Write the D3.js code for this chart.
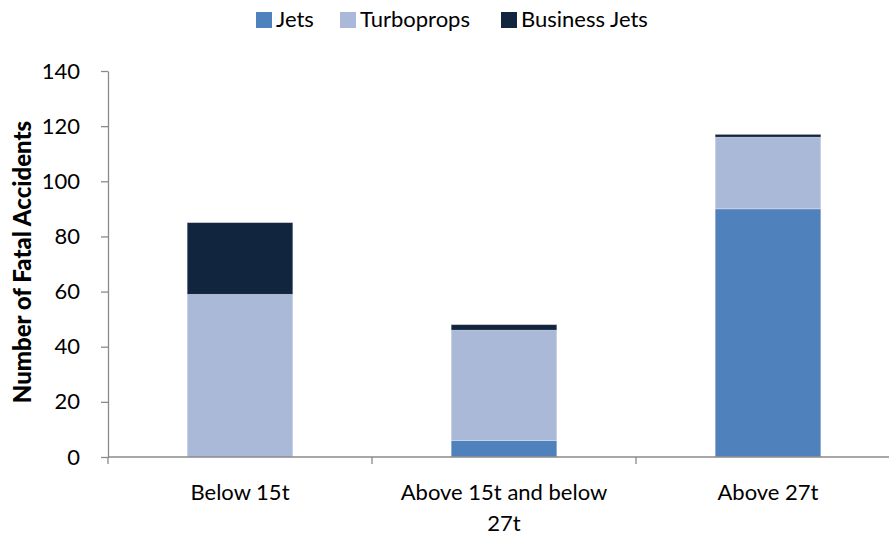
<!DOCTYPE html>
<html>
<head>
<meta charset="utf-8">
<script src="https://cdn.jsdelivr.net/npm/d3@7"></script>
<style>
  body { margin: 0; background: #fff; }
  text { font-family: Lato, "Open Sans", sans-serif; fill: #000; }
</style>
</head>
<body>
<svg id="chart" width="889" height="535"></svg>
<script>
// data
const categories = ["Below 15t", "Above 15t and below 27t", "Above 27t"];
const seriesNames = ["Jets", "Turboprops", "Business Jets"];
const jets = [0, 6, 90];
const turboprops = [59, 40, 26];
const businessJets = [26, 2, 1];
const yTicks = [0, 20, 40, 60, 80, 100, 120, 140];
const colors = ["#4F81BD", "#AAB9D7", "#11253F"];

const svg = d3.select("#chart");
const margin = {left: 108, top: 71, bottom: 457, right: 900};

const rows = categories.map((c, i) => ({
  cat: c, "Jets": jets[i], "Turboprops": turboprops[i], "Business Jets": businessJets[i]
}));
const stacked = d3.stack().keys(seriesNames)(rows);

const x = d3.scaleBand()
  .domain(categories)
  .range([margin.left, margin.right])
  .paddingInner(0.6)
  .paddingOuter(0.3);

const y = d3.scaleLinear()
  .domain([0, 140])
  .range([margin.bottom, margin.top]);

// bars
svg.append("g")
  .selectAll("g")
  .data(stacked)
  .enter()
  .append("g")
  .attr("fill", (d, i) => colors[i])
  .selectAll("rect")
  .data(d => d)
  .enter()
  .append("rect")
  .attr("x", d => x(d.data.cat))
  .attr("width", x.bandwidth())
  .attr("y", d => y(d[1]))
  .attr("height", d => y(d[0]) - y(d[1]))
  .attr("stroke", "#fff")
  .attr("stroke-opacity", 0.35)
  .attr("stroke-width", 0.8);

// y axis
const yAxis = svg.append("g")
  .attr("transform", `translate(${margin.left},0)`)
  .call(d3.axisLeft(y).tickValues(yTicks).tickSize(7).tickPadding(21).tickSizeOuter(0));
yAxis.select(".domain").attr("stroke", "#8a8a8a").attr("stroke-width", 1.3);
yAxis.selectAll(".tick line").attr("stroke", "#8a8a8a").attr("stroke-width", 1.3);
yAxis.selectAll("text").style("font-size", "22px").attr("fill", "#000");

// x axis: ticks at band boundaries
const xAxisG = svg.append("g").attr("transform", `translate(0,${margin.bottom})`);
xAxisG.append("line")
  .attr("x1", margin.left).attr("x2", margin.right)
  .attr("stroke", "#8a8a8a").attr("stroke-width", 1.3);
const bounds = [0, 1, 2, 3].map(i => margin.left + i * x.step());
xAxisG.selectAll(".bt")
  .data(bounds)
  .enter()
  .append("line")
  .attr("x1", d => d).attr("x2", d => d)
  .attr("y1", 0).attr("y2", 7)
  .attr("stroke", "#8a8a8a").attr("stroke-width", 1.3);

const xLabels = [["Below 15t"], ["Above 15t and below", "27t"], ["Above 27t"]];
xAxisG.selectAll(".xl")
  .data(categories)
  .enter()
  .append("text")
  .attr("text-anchor", "middle")
  .style("font-size", "22px")
  .attr("x", d => x(d) + x.bandwidth() / 2)
  .attr("y", 43)
  .each(function(d, i) {
    d3.select(this).selectAll("tspan")
      .data(xLabels[i])
      .enter()
      .append("tspan")
      .attr("x", x(d) + x.bandwidth() / 2)
      .attr("dy", (t, j) => j === 0 ? 0 : 31)
      .text(t => t);
  });

// y axis title
svg.append("text")
  .attr("transform", `translate(31,262) rotate(-90)`)
  .attr("text-anchor", "middle")
  .style("font-size", "24px")
  .style("font-weight", "900")
  .text("Number of Fatal Accidents");

// legend
const legendX = [256, 340, 501];
const legend = svg.append("g")
  .selectAll("g")
  .data(seriesNames)
  .enter()
  .append("g")
  .attr("transform", (d, i) => `translate(${legendX[i]},12)`);
legend.append("rect")
  .attr("width", 16).attr("height", 16)
  .attr("fill", (d, i) => colors[i]);
legend.append("text")
  .attr("x", 20).attr("y", 15)
  .style("font-size", "22px")
  .text(d => d);
</script>
</body>
</html>
